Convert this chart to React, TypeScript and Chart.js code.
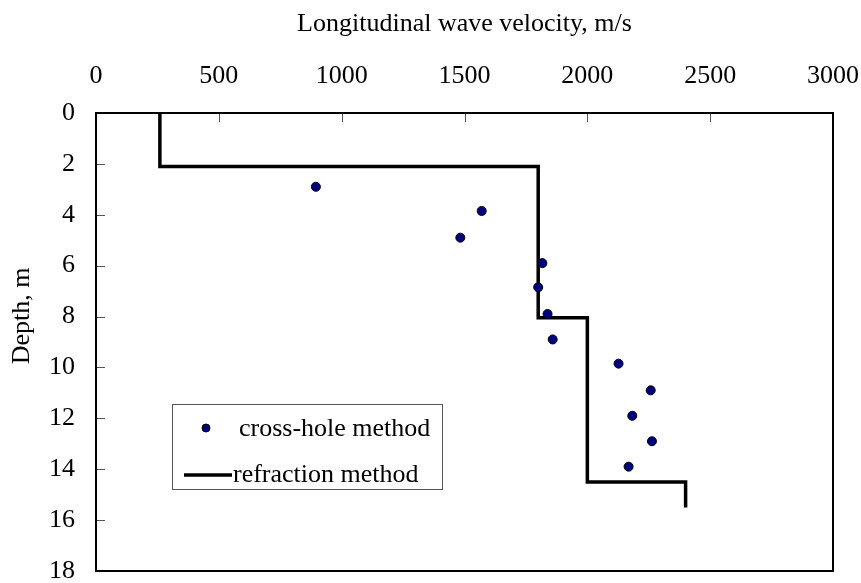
import React, { useEffect, useRef } from "react";
import { Chart, registerables } from "chart.js";

Chart.register(...registerables);

// ---- data ----
const crossHoleVelocity = [895, 1570, 1483, 1817, 1800, 1838, 1859, 2127, 2258, 2183, 2263, 2168];
const crossHoleDepth = [2.9, 3.85, 4.9, 5.9, 6.85, 7.9, 8.9, 9.85, 10.9, 11.9, 12.9, 13.9];
const refractionVelocity = [260, 260, 1800, 1800, 2000, 2000, 2400, 2400];
const refractionDepth = [0, 2.1, 2.1, 8.05, 8.05, 14.5, 14.5, 15.5];
const velocityTicks = [0, 500, 1000, 1500, 2000, 2500, 3000];
const depthTicks = [0, 2, 4, 6, 8, 10, 12, 14, 16, 18];
const seriesLabels = ["cross-hole method", "refraction method"];
const xTitle = "Longitudinal wave velocity, m/s";
const yTitle = "Depth, m";

const FONT = "'Liberation Serif', 'Times New Roman', serif";
const FS = 26;

const framePlugin = {
  id: "frame",
  beforeDatasetsDraw(chart: any) {
    const { ctx, chartArea: a, scales } = chart;
    ctx.save();
    ctx.strokeStyle = "#555";
    ctx.lineWidth = 1;
    ctx.beginPath();
    for (const t of scales.x.ticks) {
      if (t.value === scales.x.min || t.value === scales.x.max) continue;
      const px = Math.round(scales.x.getPixelForValue(t.value)) + 0.5;
      ctx.moveTo(px, a.top);
      ctx.lineTo(px, a.top + 9);
    }
    for (const t of scales.y.ticks) {
      if (t.value === scales.y.min || t.value === scales.y.max) continue;
      const py = Math.round(scales.y.getPixelForValue(t.value)) + 0.5;
      ctx.moveTo(a.left, py);
      ctx.lineTo(a.left + 9, py);
    }
    ctx.stroke();
    ctx.strokeStyle = "#000";
    ctx.lineWidth = 2;
    ctx.strokeRect(a.left, a.top, a.right - a.left, a.bottom - a.top);
    ctx.restore();
  },
  afterDraw(chart: any) {
    const { ctx, chartArea: a } = chart;
    ctx.save();
    // y axis title
    ctx.font = `${FS}px ${FONT}`;
    ctx.fillStyle = "#000";
    ctx.textAlign = "center";
    ctx.textBaseline = "middle";
    ctx.translate(a.left - 74, a.top + (a.bottom - a.top) * 0.443);
    ctx.rotate(-Math.PI / 2);
    ctx.fillText(yTitle, 0, 0);
    ctx.restore();

    // legend
    ctx.save();
    const bx = a.left + 76;
    const by = a.top + 291;
    const bw = 270;
    const bh = 85;
    ctx.fillStyle = "#fff";
    ctx.fillRect(bx, by, bw, bh);
    ctx.strokeStyle = "#555";
    ctx.lineWidth = 1;
    ctx.strokeRect(bx + 0.5, by + 0.5, bw, bh);
    const ds0 = chart.data.datasets[0];
    const ds1 = chart.data.datasets[1];
    // marker
    ctx.beginPath();
    ctx.arc(bx + 34, by + 24, 4, 0, Math.PI * 2);
    ctx.fillStyle = ds0.backgroundColor;
    ctx.fill();
    ctx.strokeStyle = ds0.borderColor;
    ctx.lineWidth = 1;
    ctx.stroke();
    // line
    ctx.beginPath();
    ctx.moveTo(bx + 12, by + 71);
    ctx.lineTo(bx + 60, by + 71);
    ctx.strokeStyle = ds1.borderColor;
    ctx.lineWidth = ds1.borderWidth;
    ctx.stroke();
    ctx.font = `${FS}px ${FONT}`;
    ctx.fillStyle = "#000";
    ctx.textAlign = "left";
    ctx.textBaseline = "middle";
    ctx.fillText(ds0.label, bx + 67, by + 25);
    ctx.fillText(ds1.label, bx + 61, by + 71);
    ctx.restore();
  },
};

export default function App() {
  const ref = useRef<HTMLCanvasElement | null>(null);
  useEffect(() => {
    if (!ref.current) return;
    const chart = new Chart(ref.current, {
      type: "scatter",
      data: {
        datasets: [
          {
            label: seriesLabels[0],
            data: crossHoleVelocity.map((v, i) => ({ x: v, y: crossHoleDepth[i] })),
            backgroundColor: "#000080",
            borderColor: "#000",
            borderWidth: 1,
            pointRadius: 4.5,
            showLine: false,
          },
          {
            label: seriesLabels[1],
            data: refractionVelocity.map((v, i) => ({ x: v, y: refractionDepth[i] })),
            borderColor: "#000",
            backgroundColor: "#000",
            borderWidth: 3.5,
            pointRadius: 0,
            showLine: true,
            borderCapStyle: "butt",
            borderJoinStyle: "miter",
            tension: 0,
          },
        ],
      },
      options: {
        animation: false,
        responsive: false,
        devicePixelRatio: 1,
        layout: { padding: { left: 0, top: 0, right: 28, bottom: 12 } },
        plugins: { legend: { display: false }, tooltip: { enabled: false } },
        scales: {
          x: {
            type: "linear",
            position: "top",
            min: velocityTicks[0],
            max: velocityTicks[velocityTicks.length - 1],
            afterBuildTicks: (s: any) => {
              s.ticks = velocityTicks.map((v) => ({ value: v }));
            },
            afterFit: (s: any) => {
              s.height = 113;
              s.paddingLeft = 0;
              s.paddingRight = 0;
            },
            grid: { display: false, drawTicks: false },
            border: { display: false },
            ticks: {
              padding: 21,
              color: "#000",
              font: { family: FONT, size: FS },
              maxRotation: 0,
              autoSkip: false,
              callback: (v: any) => String(v),
            },
            title: {
              display: true,
              text: xTitle,
              color: "#000",
              font: { family: FONT, size: FS },
              padding: { top: 9, bottom: 0 },
            },
          },
          y: {
            type: "linear",
            reverse: true,
            min: depthTicks[0],
            max: depthTicks[depthTicks.length - 1],
            afterBuildTicks: (s: any) => {
              s.ticks = depthTicks.map((v) => ({ value: v }));
            },
            afterFit: (s: any) => {
              s.width = 96;
              s.paddingTop = 0;
              s.paddingBottom = 0;
            },
            grid: { display: false, drawTicks: false },
            border: { display: false },
            ticks: {
              padding: 21,
              color: "#000",
              font: { family: FONT, size: FS },
              autoSkip: false,
              callback: (v: any) => String(v),
            },
            title: { display: false },
          },
        },
      },
      plugins: [framePlugin],
    } as any);
    return () => chart.destroy();
  }, []);
  return (
    <div style={{ position: "fixed", left: 0, top: 0, width: 861, height: 583, background: "#fff" }}>
      <canvas ref={ref} width={861} height={583} />
    </div>
  );
}
